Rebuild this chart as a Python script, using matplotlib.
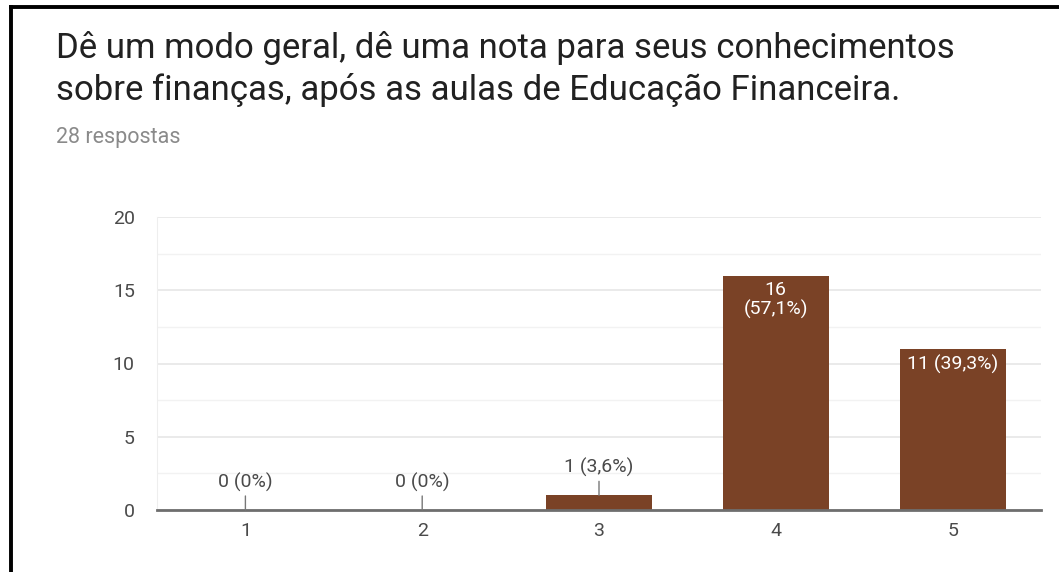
import matplotlib
matplotlib.use("Agg")
import matplotlib.pyplot as plt
from matplotlib.ticker import MultipleLocator

plt.rcParams['font.family'] = ['Roboto', 'DejaVu Sans']

# Survey results: grade (1-5) given to own knowledge of finances
grades = ["1", "2", "3", "4", "5"]
counts = [0, 0, 1, 16, 11]
pct_labels = ["0%", "0%", "3,6%", "57,1%", "39,3%"]
inside_labels = {3: "16\n(57,1%)", 4: "11 (39,3%)"}
title_lines = "Dê um modo geral, dê uma nota para seus conhecimentos\nsobre finanças, após as aulas de Educação Financeira."
subtitle = "28 respostas"
y_ticks = [0, 5, 10, 15, 20]

BAR = "#7a4226"
TXT = "#4a4a4a"

W, H = 1059, 572
fig = plt.figure(figsize=(W / 100, H / 100), dpi=100)
fig.patch.set_facecolor("white")

# card frame (left and top edges visible)
fig.add_artist(plt.Line2D([11 / W, 11 / W], [0, 1 - 7 / H], color="black", lw=2.8,
                          transform=fig.transFigure))
fig.add_artist(plt.Line2D([11 / W, 1], [1 - 7 / H, 1 - 7 / H], color="black", lw=2.8,
                          transform=fig.transFigure))

fig.text(56 / W, 1 - 69 / H, title_lines, fontsize=25, color="#212121",
         ha="left", va="center", linespacing=1.32)
fig.text(56 / W, 1 - 138 / H, subtitle, fontsize=15.5, color="#8a8a8a",
         ha="left", va="center")

ax = fig.add_axes([157 / W, 1 - 510 / H, (1041 - 157) / W, (510 - 217) / H])
x = list(range(1, len(grades) + 1))
ax.bar(x, counts, width=0.6, color=BAR, zorder=3)

ax.set_xlim(0.5, 5.5)
ax.set_ylim(0, 20)
ax.set_yticks(y_ticks)
ax.yaxis.set_minor_locator(MultipleLocator(2.5))
ax.set_xticks(x)
ax.set_xticklabels(grades)
ax.grid(True, which="major", axis="y", color="#e6e6e6", lw=1.2, zorder=0)
ax.grid(True, which="minor", axis="y", color="#f2f2f2", lw=1.0, zorder=0)
ax.tick_params(axis="both", which="both", length=0, labelsize=14, labelcolor=TXT)
ax.tick_params(axis="x", pad=9)
ax.tick_params(axis="y", pad=16)
for side in ("top", "right"):
    ax.spines[side].set_visible(False)
ax.spines["left"].set_color("#eeeeee")
ax.spines["bottom"].set_color("#6e6e6e")
ax.spines["bottom"].set_linewidth(2)
ax.spines["bottom"].set_zorder(4)

for i, (xi, c, p) in enumerate(zip(x, counts, pct_labels)):
    if i in inside_labels:
        ax.annotate(inside_labels[i], xy=(xi, c), xytext=(0, -4), textcoords="offset points",
                    ha="center", va="top", fontsize=14, color="white", zorder=5,
                    linespacing=1.05)
    else:
        ax.annotate(f"{c} ({p})", xy=(xi, c), xytext=(0, 20), textcoords="offset points",
                    ha="center", va="center", fontsize=14, color=TXT, zorder=5,
                    arrowprops=dict(arrowstyle="-", color="#777777", lw=1,
                                    shrinkA=1, shrinkB=0))

fig.savefig("out.png", dpi=100, facecolor="white")
